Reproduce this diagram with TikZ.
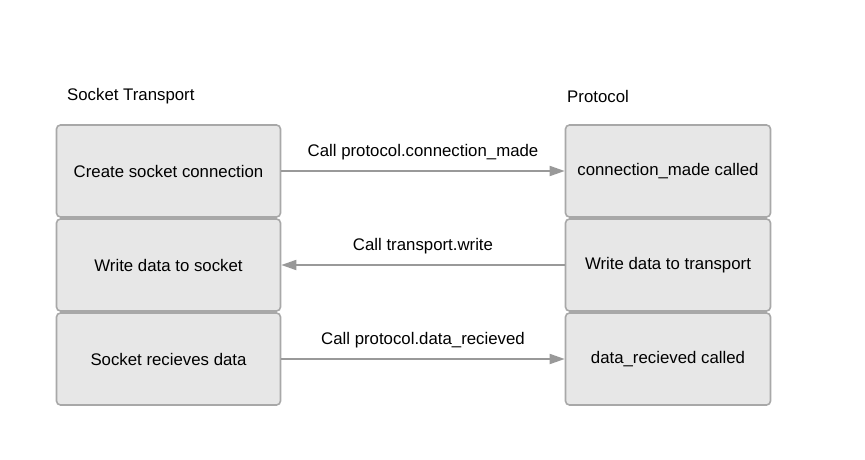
\documentclass[tikz,border=0pt]{standalone}
\usepackage{fontspec}
\setmainfont{Liberation Sans}
\usetikzlibrary{arrows.meta}
\definecolor{boxfill}{HTML}{E7E7E7}
\definecolor{boxline}{HTML}{A8A8A8}
\definecolor{arrowc}{HTML}{999999}
\begin{document}
\begin{tikzpicture}[x=1pt,y=1pt,
  box/.style={draw=boxline, fill=boxfill, line width=1.6pt, rounded corners=4pt,
    minimum height=92pt, inner sep=0pt, font=\fontsize{16.8}{19}\selectfont},
  lbox/.style={box, minimum width=224pt},
  rbox/.style={box, minimum width=205pt},
  conn/.style={draw=arrowc, line width=1.8pt, -{Triangle[length=15pt,width=10pt]}},
  lab/.style={font=\fontsize{16.8}{19}\selectfont, inner sep=0pt},
  title/.style={font=\fontsize{16.8}{19}\selectfont, inner sep=0pt, anchor=west}]
\useasboundingbox (0,0) rectangle (865,459);
\node[title] (t1) at (67,363) {Socket Transport};
\node[title] (t2) at (567,363) {Protocol};
\node[lbox] (l1) at (168.5,288) {Create socket connection};
\node[lbox] (l2) at (168.5,194) {Write data to socket};
\node[lbox] (l3) at (168.5,100) {Socket recieves data};
\node[rbox] (r1) at (668,288) {connection\_made called};
\node[rbox] (r2) at (668,194) {Write data to transport};
\node[rbox] (r3) at (668,100) {data\_recieved called};
\draw[conn] (l1.east) -- (r1.west);
\draw[conn] (r2.west) -- (l2.east);
\draw[conn] (l3.east) -- (r3.west);
\node[lab] (c1) at (423,307) {Call protocol.connection\_made};
\node[lab] (c2) at (423,213) {Call transport.write};
\node[lab] (c3) at (423,119) {Call protocol.data\_recieved};
\end{tikzpicture}
\end{document}
